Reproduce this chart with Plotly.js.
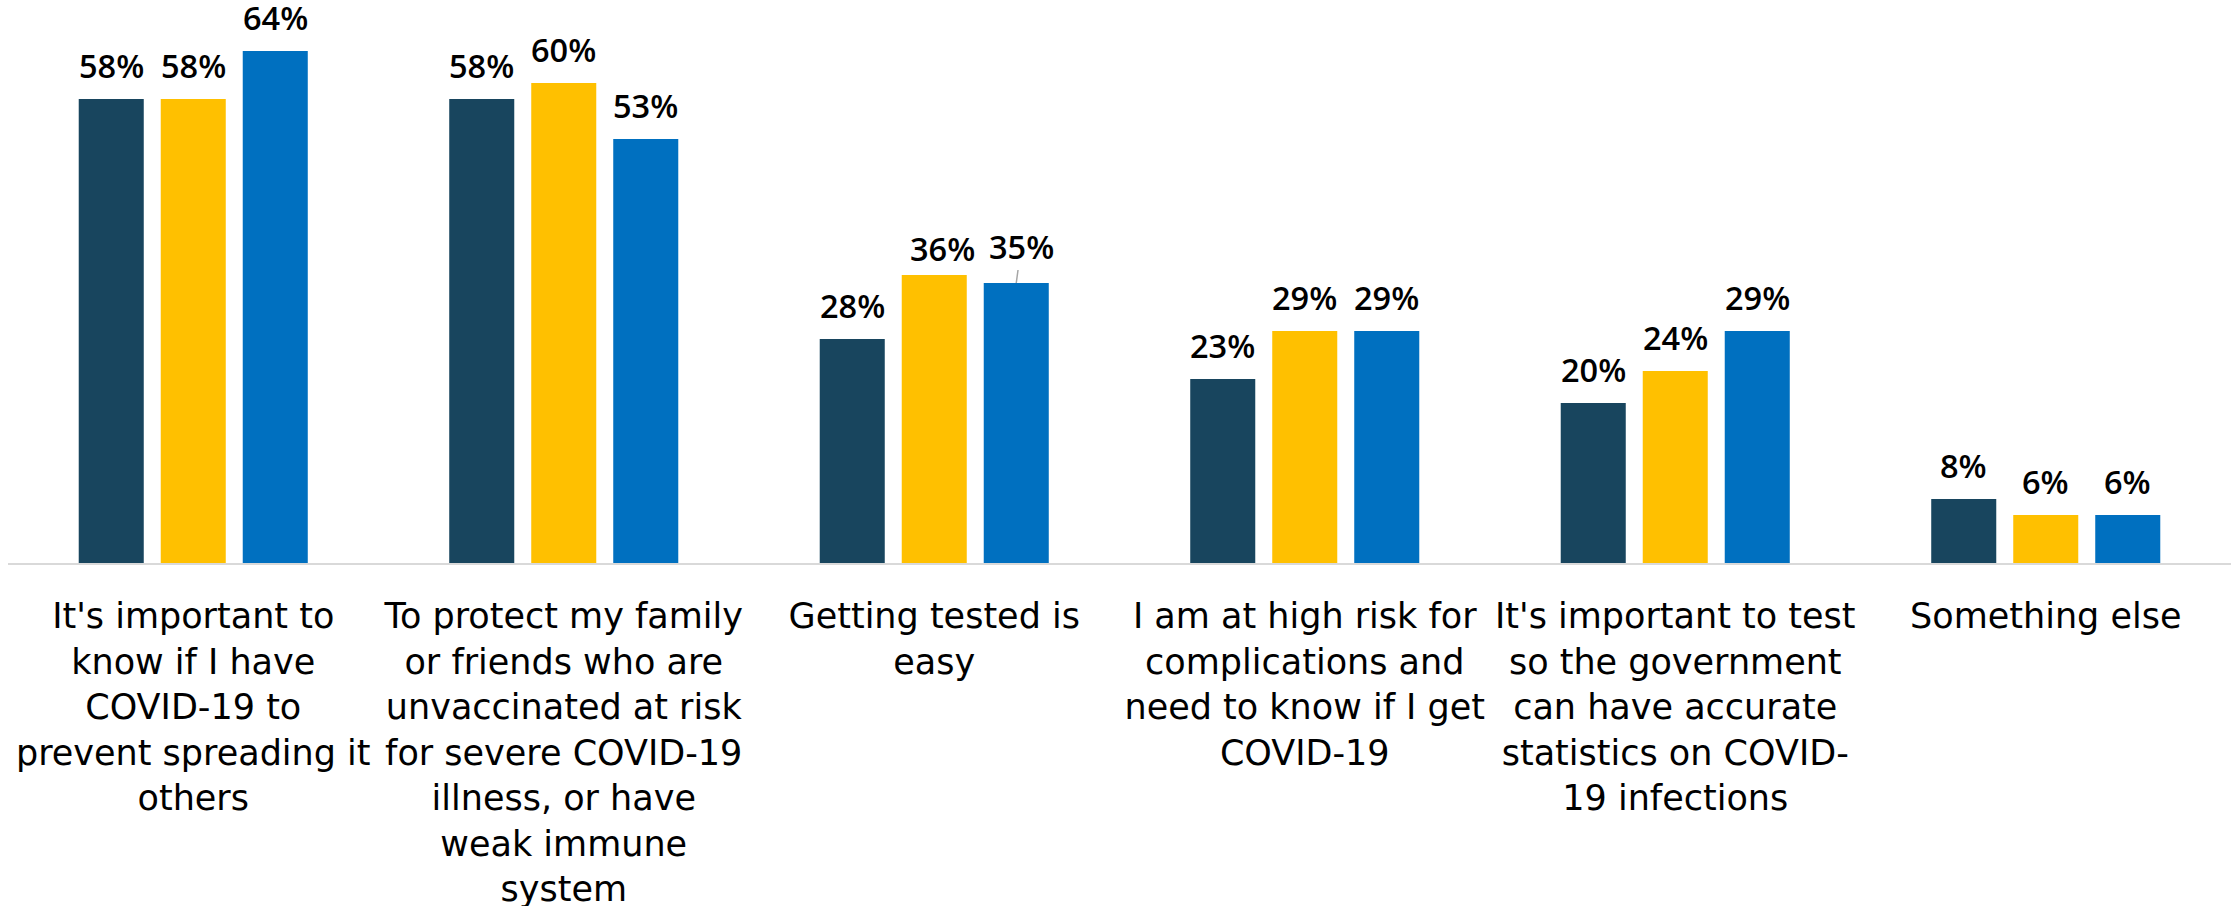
<!DOCTYPE html>
<html>
<head>
<meta charset="utf-8">
<script src="https://cdn.plot.ly/plotly-3.0.1.min.js"></script>
<style>
  html, body { margin: 0; padding: 0; background: #ffffff; }
  #chart { width: 2234px; height: 906px; }
</style>
</head>
<body>
<div id="chart"></div>
<script>
// ---- Data ----
const categories = [
  "It's important to<br>know if I have<br>COVID-19 to<br>prevent spreading it<br>others",
  "To protect my family<br>or friends who are<br>unvaccinated at risk<br>for severe COVID-19<br>illness, or have<br>weak immune<br>system",
  "Getting tested is<br>easy",
  "I am at high risk for<br>complications and<br>need to know if I get<br>COVID-19",
  "It's important to test<br>so the government<br>can have accurate<br>statistics on COVID-<br>19 infections",
  "Something else"
];
const seriesNames = ["Series 1", "Series 2", "Series 3"];
const series1 = [58, 58, 28, 23, 20, 8];
const series2 = [58, 60, 36, 29, 24, 6];
const series3 = [64, 53, 35, 29, 29, 6];

// ---- Style ----
const colors = ["#18455E", "#FFC000", "#0070C0"];
const W = 2234, H = 906;
const margin = {l: 8, r: 3, t: 3, b: 343};
const bargap = 0.336, bargroupgap = 0.207;
const allSeries = [series1, series2, series3];

// manual label nudges (as in the original chart): key "cat-series"
const labelNudge = {
  "2-1": {dx: 8.5, dy: -7},
  "2-2": {dx: 5, dy: 6, leader: true}
};

const traces = allSeries.map((vals, k) => ({
  type: "bar",
  name: seriesNames[k],
  x: categories,
  y: vals,
  marker: {color: colors[k], line: {width: 0}},
  hoverinfo: "skip"
}));

const plotW = W - margin.l - margin.r;
const catW = plotW / categories.length;
const slot = catW * (1 - bargap) / allSeries.length;
const baseShift = 9;

const annotations = [];
allSeries.forEach((vals, k) => {
  vals.forEach((v, i) => {
    const nudge = labelNudge[i + "-" + k] || {dx: 0, dy: 0};
    const xs = (k - (allSeries.length - 1) / 2) * slot;
    const a = {
      x: categories[i], y: v, xref: "x", yref: "y",
      text: v + "%",
      font: {family: "Open Sans, sans-serif", size: 32.5, color: "#000000", weight: 600}
    };
    if (nudge.leader) {
      a.showarrow = true;
      a.arrowhead = 0;
      a.arrowwidth = 1.5;
      a.arrowcolor = "#A6A6A6";
      a.xshift = xs;
      a.ax = nudge.dx;
      a.ay = -(baseShift + 22 + nudge.dy);
    } else {
      a.showarrow = false;
      a.yanchor = "bottom";
      a.xshift = xs + nudge.dx;
      a.yshift = baseShift + nudge.dy;
    }
    annotations.push(a);
  });
});

const layout = {
  width: W, height: H,
  margin: margin,
  paper_bgcolor: "#ffffff",
  plot_bgcolor: "#ffffff",
  barmode: "group",
  bargap: bargap,
  bargroupgap: bargroupgap,
  showlegend: false,
  xaxis: {
    type: "category",
    showline: true, linecolor: "#D9D9D9", linewidth: 2,
    showgrid: false, zeroline: false, ticks: "",
    tickangle: 0,
    ticklabelstandoff: 21,
    tickfont: {family: "DejaVu Sans, sans-serif", size: 35, color: "#000000"}
  },
  yaxis: {
    range: [0, 70],
    showgrid: false, zeroline: false, showline: false,
    showticklabels: false, ticks: ""
  },
  annotations: annotations
};

Plotly.newPlot("chart", traces, layout, {displayModeBar: false, staticPlot: true});
</script>
</body>
</html>
